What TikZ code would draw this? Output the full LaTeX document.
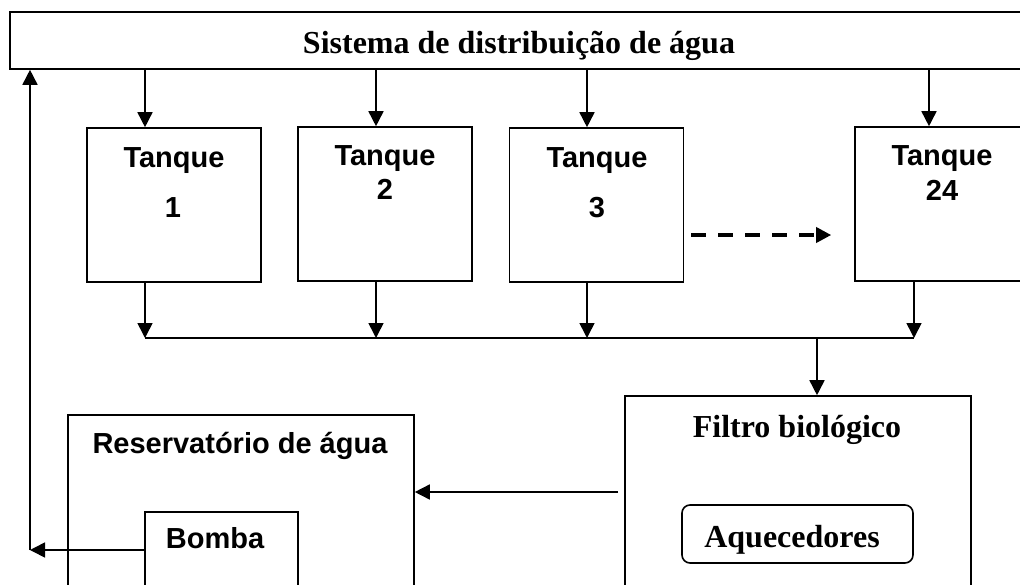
\documentclass[tikz,border=0pt]{standalone}
\usepackage{fontspec}
\usepackage{tikz}
\usetikzlibrary{arrows}
\usetikzlibrary{arrows.meta}
\newfontfamily\arialfont{Liberation Sans}
\newfontfamily\timesfont{Liberation Serif}

\begin{document}
\begin{tikzpicture}[x=1pt,y=-1pt]
\tikzset{>={Triangle[width=15pt,length=15pt]}}
\tikzstyle{box} =[rectangle, draw, line width=1.6pt, inner sep=0pt]
\tikzstyle{sans} =[inner sep=0pt, anchor=base, font=\arialfont\bfseries\fontsize{29}{31}\selectfont]
\tikzstyle{serif} =[inner sep=0pt, anchor=base, font=\timesfont\bfseries\fontsize{32}{34}\selectfont]
\tikzstyle{pipe} =[->, line width=1.6pt]

\useasboundingbox (0,0) rectangle (1020,584);
\clip (0,0) rectangle (1020,584);

% boxes
\node[box,minimum width=1030pt,minimum height=57pt](dist) at (525,40.5){};
\node[box,minimum width=174pt,minimum height=154pt](t1) at (174,205){};
\node[box,minimum width=174pt,minimum height=154pt](t2) at (385,204){};
\node[box,minimum width=174pt,minimum height=154pt](t3) at (596.5,205){};
\node[box,minimum width=174pt,minimum height=154pt](t24) at (942,204){};
\node[box,minimum width=346pt,minimum height=224pt](filtro) at (798,508){};
\node[box,rounded corners=8pt,minimum width=231pt,minimum height=58pt](aquec) at (797.5,534){};
\node[box,minimum width=346pt,minimum height=205pt](res) at (241,517.5){};
\node[box,minimum width=153pt,minimum height=108pt](bomba) at (221.5,566){};

% texts
\node[serif](ldist) at (519,53){Sistema de distribuição de água};
\node[sans](lt1) at (174,167){Tanque};
\node[sans](nt1) at (173,217){1};
\node[sans](lt2) at (385,165){Tanque};
\node[sans](nt2) at (385,199){2};
\node[sans](lt3) at (597,167){Tanque};
\node[sans](nt3) at (597,217){3};
\node[sans](lt24) at (942,165){Tanque};
\node[sans](nt24) at (942,200){24};
\node[serif](lfiltro) at (797,437){Filtro biológico};
\node[serif](laquec) at (792,547){Aquecedores};
\node[sans](lres) at (240,453){Reservatório de água};
\node[sans](lbomba) at (215,548){Bomba};

% pipes
\coordinate (c1) at (145,338);
\coordinate (c2) at (376,338);
\coordinate (c3) at (587,338);
\coordinate (c24) at (914,338);
\coordinate (i24) at (929,338);
\coordinate (cf) at (817,338);
\coordinate (fr) at (618,492);
\coordinate (ret) at (30,550);
\coordinate (dd) at (0,235);

\draw [pipe] (dist.south -| c1) to (t1.north -| c1);
\draw [pipe] (dist.south -| c2) to (t2.north -| c2);
\draw [pipe] (dist.south -| c3) to (t3.north -| c3);
\draw [pipe] (dist.south -| i24) to (t24.north -| i24);

\draw [pipe] (t1.south -| c1) to (c1);
\draw [pipe] (t2.south -| c2) to (c2);
\draw [pipe] (t3.south -| c3) to (c3);
\draw [pipe] (t24.south -| c24) to (c24);
\draw [line width=1.6pt] (c1) to (c24);
\draw [pipe] (cf) to (filtro.north -| cf);

\draw [->,line width=3.5pt,dash pattern=on 15pt off 12pt,shorten <=7pt,shorten >=23pt] (t3.east |- dd) to (t24.west |- dd);

\draw [pipe] (fr) to (res.east |- fr);
\draw [pipe] (bomba.west |- ret) to (ret);
\draw [pipe] (ret) to (dist.south -| ret);
\end{tikzpicture}
\end{document}
